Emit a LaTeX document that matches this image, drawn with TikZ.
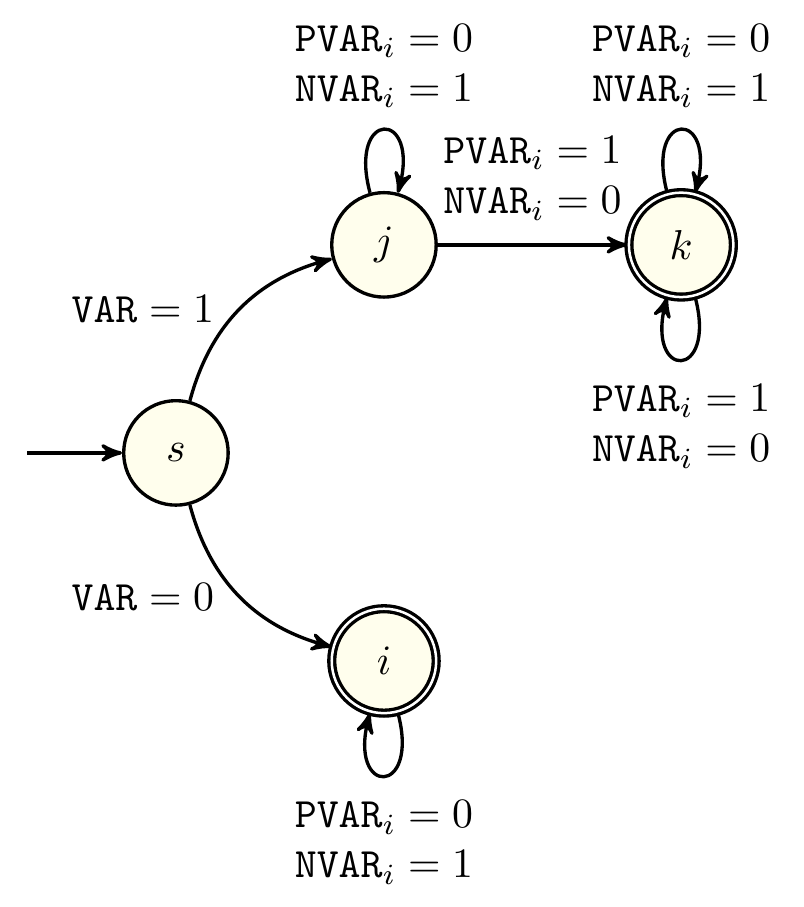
\documentclass[tikz,border=0pt]{standalone}
\usepackage{tikz}
\usetikzlibrary{positioning,arrows}

\tikzset{
    stt/.style={circle,draw,thick,fill=yellow!7,minimum size=2.5em},
    acc/.style={stt,double,double distance=0.6pt},
    lbl/.style={align=center}
}

\begin{document}
\begin{tikzpicture}[>=stealth',thick,node distance=1.75cm and 1.75cm,on grid]
            \useasboundingbox (-1.48,-3.82) rectangle (5.28,3.81);

            % States
            \node[stt] (s)                      {$s$};
            \node[stt] (j) [above right=of s]   {$j$};
            \node[acc] (k) [right=2.5cm of j]   {$k$};
            \node[acc] (i) [below right=of s]   {$i$};
            \coordinate[left=1.25cm of s] (init);

            % Transitions
            \draw[->] (init) -- (s);
            \draw[->] (s) to[bend left]  node[lbl,left=2.5pt]  {$\mathtt{VAR}=1$} (j);
            \draw[->] (s) to[bend right] node[lbl,left=2.5pt]  {$\mathtt{VAR}=0$} (i);
            \draw[->] (j) -- node[lbl,above=2.2pt] {$\mathtt{PVAR}_i=1$\\$\mathtt{NVAR}_i=0$} (k);
            \draw[->] (j) to[loop above] node[lbl,above=1.6pt] {$\mathtt{PVAR}_i=0$\\$\mathtt{NVAR}_i=1$} (j);
            \draw[->] (k) to[loop above] node[lbl,above=1.6pt] {$\mathtt{PVAR}_i=0$\\$\mathtt{NVAR}_i=1$} (k);
            \draw[->] (k) to[loop below] node[lbl,below=2.2pt] {$\mathtt{PVAR}_i=1$\\$\mathtt{NVAR}_i=0$} (k);
            \draw[->] (i) to[loop below] node[lbl,below=2.2pt] {$\mathtt{PVAR}_i=0$\\$\mathtt{NVAR}_i=1$} (i);
        \end{tikzpicture}
\end{document}
